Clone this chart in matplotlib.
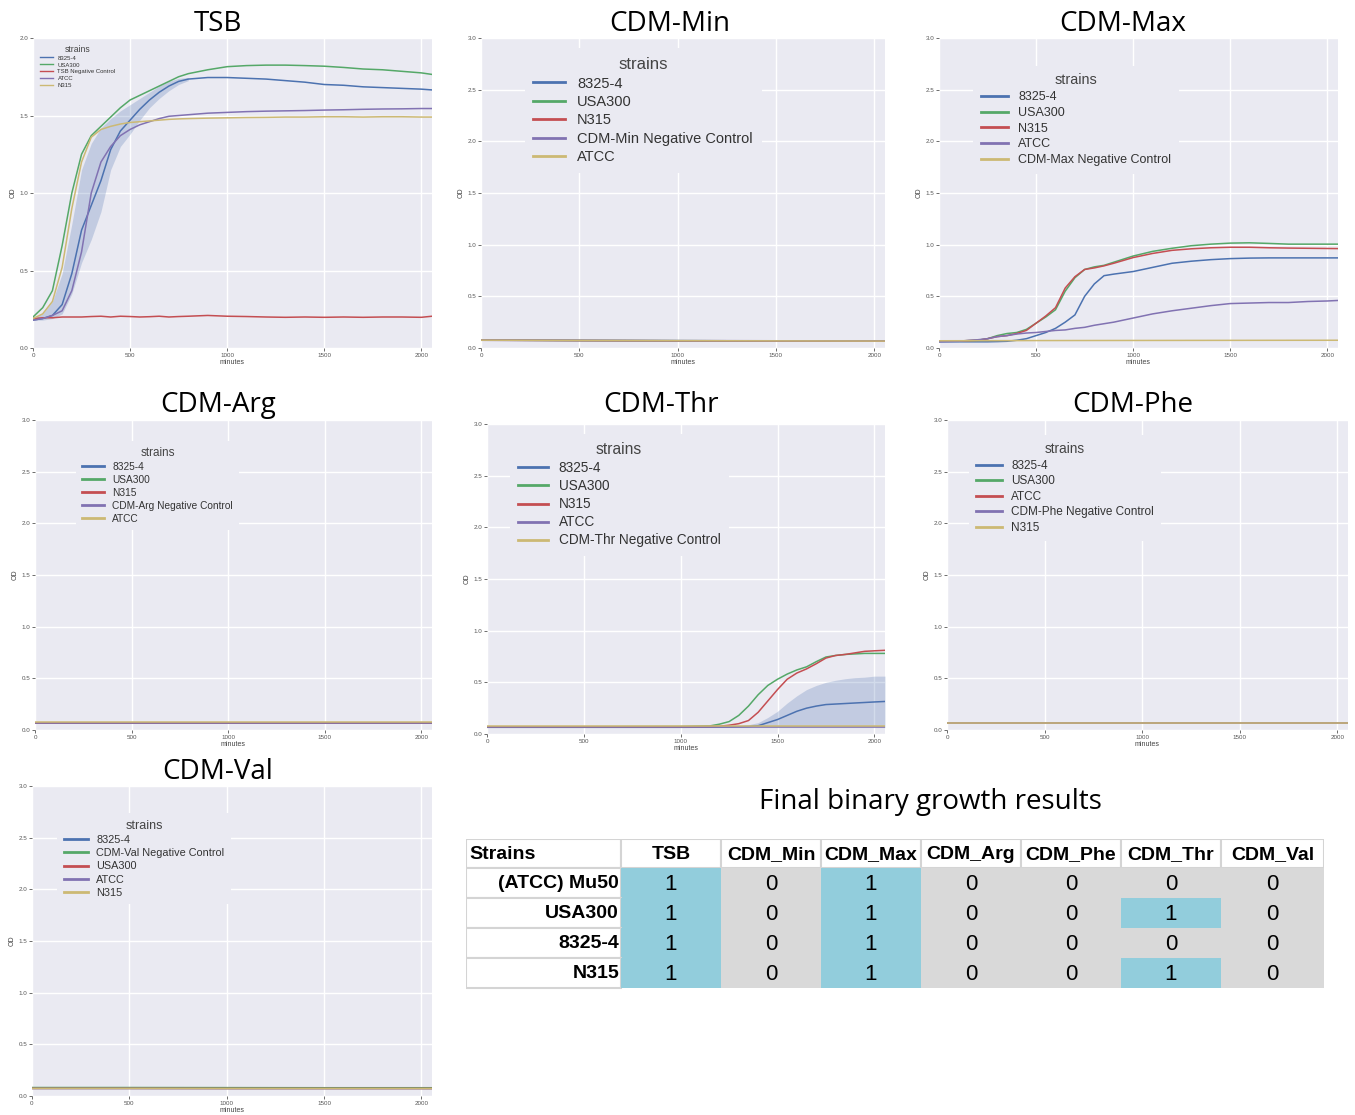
import matplotlib
matplotlib.use('Agg')
import matplotlib.pyplot as plt
from matplotlib.patches import Rectangle

W, H = 1355, 1115

# colours (seaborn "deep")
c_blue, c_green, c_red, c_purple, c_yellow = '#4C72B0', '#55A868', '#C44E52', '#8172B2', '#CCB974'

x_ticks = [0, 500, 1000, 1500, 2000]

# ---------------- TSB ----------------
tsb_t = [0, 50, 100, 150, 200, 250, 300, 350, 400, 450, 500, 550, 600, 650, 700, 750, 800,
         900, 1000, 1100, 1200, 1300, 1400, 1500, 1600, 1700, 1800, 1900, 2000, 2055]
tsb_8325 = [0.18, 0.19, 0.21, 0.28, 0.48, 0.76, 0.92, 1.08, 1.28, 1.40, 1.47, 1.54, 1.60, 1.65, 1.69, 1.72, 1.735,
            1.745, 1.745, 1.74, 1.735, 1.725, 1.715, 1.70, 1.695, 1.685, 1.68, 1.675, 1.67, 1.665]
tsb_usa300 = [0.20, 0.26, 0.37, 0.66, 1.00, 1.25, 1.37, 1.43, 1.49, 1.55, 1.60, 1.63, 1.66, 1.69, 1.72, 1.75, 1.77,
              1.795, 1.815, 1.822, 1.825, 1.825, 1.822, 1.818, 1.81, 1.80, 1.795, 1.785, 1.775, 1.765]
tsb_neg = [0.19, 0.195, 0.195, 0.20, 0.20, 0.20, 0.203, 0.205, 0.20, 0.205, 0.203, 0.20, 0.202, 0.205, 0.20, 0.203, 0.205,
           0.21, 0.205, 0.203, 0.20, 0.198, 0.20, 0.198, 0.20, 0.198, 0.20, 0.20, 0.198, 0.205]
tsb_atcc = [0.18, 0.19, 0.21, 0.24, 0.37, 0.62, 1.00, 1.20, 1.30, 1.37, 1.41, 1.44, 1.46, 1.48, 1.495, 1.50, 1.505,
            1.515, 1.52, 1.525, 1.528, 1.53, 1.532, 1.535, 1.537, 1.54, 1.542, 1.543, 1.545, 1.545]
tsb_n315 = [0.19, 0.22, 0.30, 0.52, 0.90, 1.20, 1.36, 1.41, 1.43, 1.445, 1.455, 1.46, 1.465, 1.47, 1.475, 1.478, 1.48,
            1.483, 1.485, 1.487, 1.488, 1.49, 1.49, 1.492, 1.492, 1.49, 1.492, 1.492, 1.49, 1.49]
tsb_band_t = [0, 50, 100, 150, 200, 250, 300, 350, 400, 450, 500, 550, 600, 650, 700, 750, 800]
tsb_8325_hi = [0.19, 0.22, 0.30, 0.48, 0.80, 1.15, 1.32, 1.42, 1.48, 1.53, 1.57, 1.61, 1.65, 1.69, 1.72, 1.74, 1.745]
tsb_8325_lo = [0.18, 0.18, 0.19, 0.22, 0.35, 0.55, 0.70, 0.88, 1.15, 1.30, 1.38, 1.47, 1.55, 1.61, 1.66, 1.70, 1.725]

# ---------------- flat panels ----------------
flat_t = [0, 500, 1000, 1500, 2055]

min_8325 = [0.075, 0.072, 0.070, 0.068, 0.066]
min_usa300 = [0.076, 0.073, 0.071, 0.069, 0.067]
min_n315 = [0.075, 0.072, 0.070, 0.068, 0.066]
min_neg = [0.077, 0.074, 0.072, 0.070, 0.068]
min_atcc = [0.076, 0.073, 0.071, 0.069, 0.067]

arg_8325 = [0.070, 0.070, 0.070, 0.070, 0.070]
arg_usa300 = [0.071, 0.071, 0.071, 0.071, 0.071]
arg_n315 = [0.070, 0.070, 0.070, 0.070, 0.070]
arg_neg = [0.072, 0.072, 0.072, 0.072, 0.072]
arg_atcc = [0.073, 0.073, 0.073, 0.073, 0.073]

phe_8325 = [0.070, 0.070, 0.070, 0.070, 0.070]
phe_usa300 = [0.071, 0.071, 0.071, 0.071, 0.071]
phe_atcc = [0.070, 0.070, 0.070, 0.070, 0.070]
phe_neg = [0.072, 0.072, 0.072, 0.072, 0.072]
phe_n315 = [0.071, 0.071, 0.071, 0.071, 0.071]

val_8325 = [0.078, 0.078, 0.077, 0.077, 0.077]
val_neg = [0.082, 0.082, 0.081, 0.080, 0.080]
val_usa300 = [0.074, 0.074, 0.073, 0.073, 0.073]
val_atcc = [0.072, 0.072, 0.071, 0.071, 0.071]
val_n315 = [0.073, 0.073, 0.072, 0.072, 0.072]

# ---------------- CDM-Max ----------------
max_t = [0, 100, 200, 250, 300, 350, 400, 450, 500, 550, 600, 650, 700, 750, 800, 850, 900,
         1000, 1100, 1200, 1300, 1400, 1500, 1600, 1700, 1800, 1900, 2000, 2055]
max_8325 = [0.06, 0.06, 0.06, 0.06, 0.062, 0.065, 0.075, 0.09, 0.12, 0.15, 0.19, 0.25, 0.32, 0.50, 0.62, 0.70, 0.715,
            0.74, 0.78, 0.82, 0.84, 0.855, 0.865, 0.87, 0.872, 0.872, 0.872, 0.872, 0.872]
max_usa300 = [0.065, 0.068, 0.075, 0.09, 0.12, 0.14, 0.15, 0.18, 0.24, 0.30, 0.37, 0.55, 0.68, 0.76, 0.785, 0.80, 0.83,
              0.89, 0.935, 0.965, 0.99, 1.005, 1.015, 1.018, 1.012, 1.005, 1.005, 1.005, 1.005]
max_n315 = [0.065, 0.068, 0.075, 0.09, 0.11, 0.12, 0.14, 0.17, 0.24, 0.31, 0.39, 0.58, 0.69, 0.76, 0.775, 0.795, 0.82,
            0.875, 0.915, 0.945, 0.96, 0.97, 0.975, 0.975, 0.97, 0.967, 0.965, 0.963, 0.962]
max_atcc = [0.06, 0.065, 0.08, 0.09, 0.11, 0.12, 0.135, 0.145, 0.15, 0.16, 0.17, 0.175, 0.19, 0.20, 0.22, 0.235, 0.25,
            0.29, 0.33, 0.36, 0.385, 0.41, 0.43, 0.435, 0.44, 0.44, 0.45, 0.455, 0.46]
max_neg = [0.070, 0.072, 0.073, 0.074, 0.075]

# ---------------- CDM-Thr ----------------
thr_t = [0, 500, 1000, 1150, 1200, 1250, 1300, 1350, 1400, 1450, 1500, 1550, 1600, 1650, 1700,
         1750, 1800, 1850, 1900, 1950, 2000, 2055]
thr_8325 = [0.065, 0.065, 0.065, 0.066, 0.067, 0.068, 0.07, 0.072, 0.08, 0.11, 0.14, 0.18, 0.22, 0.25, 0.27,
            0.285, 0.29, 0.295, 0.30, 0.305, 0.31, 0.315]
thr_8325_hi = [0.068, 0.068, 0.07, 0.072, 0.074, 0.076, 0.08, 0.09, 0.11, 0.16, 0.22, 0.30, 0.37, 0.43, 0.47,
               0.50, 0.52, 0.535, 0.545, 0.55, 0.56, 0.56]
thr_8325_lo = [0.062, 0.062, 0.062, 0.062, 0.062, 0.062, 0.062, 0.062, 0.062, 0.062, 0.062, 0.062, 0.062, 0.062, 0.062,
               0.062, 0.062, 0.062, 0.062, 0.062, 0.062, 0.062]
thr_usa300 = [0.07, 0.07, 0.072, 0.078, 0.095, 0.12, 0.18, 0.27, 0.38, 0.47, 0.53, 0.58, 0.62, 0.65, 0.70,
              0.745, 0.76, 0.77, 0.775, 0.78, 0.78, 0.78]
thr_n315 = [0.07, 0.07, 0.07, 0.072, 0.075, 0.085, 0.10, 0.13, 0.21, 0.32, 0.43, 0.53, 0.59, 0.63, 0.68,
            0.735, 0.76, 0.77, 0.785, 0.80, 0.805, 0.81]
thr_atcc = [0.070, 0.070, 0.070, 0.070, 0.070]
thr_neg = [0.075, 0.075, 0.075, 0.075, 0.075]

# ---------------- table ----------------
tbl_cols = ['Strains', 'TSB', 'CDM_Min', 'CDM_Max', 'CDM_Arg', 'CDM_Phe', 'CDM_Thr', 'CDM_Val']
tbl_rows = ['(ATCC) Mu50', 'USA300', '8325-4', 'N315']
tbl_vals = [[1, 0, 1, 0, 0, 0, 0],
            [1, 0, 1, 0, 0, 1, 0],
            [1, 0, 1, 0, 0, 0, 0],
            [1, 0, 1, 0, 0, 1, 0]]

plt.rcParams['font.family'] = ['Liberation Sans', 'DejaVu Sans']
fig = plt.figure(figsize=(W / 100, H / 100), dpi=100)


def px_axes(x0, y0, x1, y1):
    return fig.add_axes([x0 / W, 1 - y1 / H, (x1 - x0) / W, (y1 - y0) / H])


def growth_panel(box, ymax, series, leg_size, leg_anchor, bands=(), handle_lw=2.0):
    ax = px_axes(*box)
    ax.set_facecolor('#EAEAF2')
    for t, lo, hi, col in bands:
        ax.fill_between(t, lo, hi, color=col, alpha=0.25, lw=0)
    for t, y, col, lab in series:
        ax.plot(t, y, color=col, lw=1.1, label=lab)
    ax.set_xlim(0, 2055)
    ax.set_ylim(0, ymax)
    ax.set_xticks(x_ticks)
    ax.set_yticks([v * 0.5 for v in range(int(ymax * 2) + 1)])
    ax.set_yticklabels(['%.1f' % (v * 0.5) for v in range(int(ymax * 2) + 1)])
    ax.grid(True, color='white', lw=1.0)
    ax.set_axisbelow(True)
    for s in ax.spines.values():
        s.set_visible(False)
    ax.tick_params(labelsize=4.5, colors='#555555', length=2, width=0.6, pad=1.5)
    ax.set_xlabel('minutes', fontsize=5, color='#444444', labelpad=1)
    ax.set_ylabel('OD', fontsize=5, color='#444444', labelpad=2)
    leg = ax.legend(title='strains', loc='upper left', bbox_to_anchor=leg_anchor,
                    fontsize=leg_size, title_fontsize=leg_size * 1.15, frameon=True,
                    facecolor='#EAEAF2', edgecolor='none', framealpha=1,
                    handlelength=2.2, borderpad=0.6, labelspacing=0.3)
    for txt in leg.get_texts():
        txt.set_color('#333333')
    leg.get_title().set_color('#444444')
    for ln in leg.get_lines():
        ln.set_linewidth(handle_lw)
    return ax


tsb_ax = growth_panel((33, 38, 432, 348), 2.0,
                      [(tsb_t, tsb_8325, c_blue, '8325-4'),
                       (tsb_t, tsb_usa300, c_green, 'USA300'),
                       (tsb_t, tsb_neg, c_red, 'TSB Negative Control'),
                       (tsb_t, tsb_atcc, c_purple, 'ATCC'),
                       (tsb_t, tsb_n315, c_yellow, 'N315')],
                      4.3, (0.0, 1.0),
                      bands=[(tsb_band_t, tsb_8325_lo, tsb_8325_hi, c_blue)], handle_lw=1.0)
tsb_ax.get_legend().get_title().set_fontsize(6.2)

growth_panel((481, 38, 885, 348), 3.0,
             [(flat_t, min_8325, c_blue, '8325-4'),
              (flat_t, min_usa300, c_green, 'USA300'),
              (flat_t, min_n315, c_red, 'N315'),
              (flat_t, min_neg, c_purple, 'CDM-Min Negative Control'),
              (flat_t, min_atcc, c_yellow, 'ATCC')],
             10.5, (0.09, 0.99))

growth_panel((939, 38, 1338, 348), 3.0,
             [(max_t, max_8325, c_blue, '8325-4'),
              (max_t, max_usa300, c_green, 'USA300'),
              (max_t, max_n315, c_red, 'N315'),
              (max_t, max_atcc, c_purple, 'ATCC'),
              (flat_t, max_neg, c_yellow, 'CDM-Max Negative Control')],
             9.0, (0.07, 0.93))

growth_panel((35, 420, 432, 730), 3.0,
             [(flat_t, arg_8325, c_blue, '8325-4'),
              (flat_t, arg_usa300, c_green, 'USA300'),
              (flat_t, arg_n315, c_red, 'N315'),
              (flat_t, arg_neg, c_purple, 'CDM-Arg Negative Control'),
              (flat_t, arg_atcc, c_yellow, 'ATCC')],
             7.3, (0.09, 0.95))

growth_panel((487, 424, 885, 734), 3.0,
             [(thr_t, thr_8325, c_blue, '8325-4'),
              (thr_t, thr_usa300, c_green, 'USA300'),
              (thr_t, thr_n315, c_red, 'N315'),
              (flat_t, thr_atcc, c_purple, 'ATCC'),
              (flat_t, thr_neg, c_yellow, 'CDM-Thr Negative Control')],
             9.8, (0.04, 0.99),
             bands=[(thr_t, thr_8325_lo, thr_8325_hi, c_blue)])

growth_panel((947, 420, 1348, 730), 3.0,
             [(flat_t, phe_8325, c_blue, '8325-4'),
              (flat_t, phe_usa300, c_green, 'USA300'),
              (flat_t, phe_atcc, c_red, 'ATCC'),
              (flat_t, phe_neg, c_purple, 'CDM-Phe Negative Control'),
              (flat_t, phe_n315, c_yellow, 'N315')],
             8.5, (0.04, 0.97))

growth_panel((32, 786, 432, 1096), 3.0,
             [(flat_t, val_8325, c_blue, '8325-4'),
              (flat_t, val_neg, c_green, 'CDM-Val Negative Control'),
              (flat_t, val_usa300, c_red, 'USA300'),
              (flat_t, val_atcc, c_purple, 'ATCC'),
              (flat_t, val_n315, c_yellow, 'N315')],
             7.8, (0.05, 0.93))

# panel titles
title_font = ['Open Sans', 'DejaVu Sans']
for txt, cx, cy in [('TSB', 218, 24), ('CDM-Min', 670, 24), ('CDM-Max', 1123, 24),
                    ('CDM-Arg', 218, 405), ('CDM-Thr', 661, 405), ('CDM-Phe', 1133, 405),
                    ('CDM-Val', 218, 772), ('Final binary growth results', 930, 802)]:
    fig.text(cx / W, 1 - cy / H, txt, ha='center', va='center', fontsize=20,
             family=title_font, color='black')

# table
tax = px_axes(466, 839, 1324, 990)
col_w = [155, 100, 100, 100, 100, 100, 100, 103]
row_h = [29, 30, 30, 30, 30]
tax.set_xlim(0, sum(col_w))
tax.set_ylim(sum(row_h) + 2, 0)
tax.axis('off')
narrow = ['Liberation Sans Narrow', 'Liberation Sans', 'DejaVu Sans']
line_c = '#D4D4D4'

x_edges = [sum(col_w[:i]) for i in range(len(col_w) + 1)]
y_edges = [sum(row_h[:i]) for i in range(len(row_h) + 1)]

for j, name in enumerate(tbl_cols):
    tax.add_patch(Rectangle((x_edges[j], 0), col_w[j], row_h[0], facecolor='white',
                            edgecolor=line_c, lw=1.5))
    if j == 0:
        tax.text(x_edges[j] + 3, row_h[0] / 2 + 1, name, ha='left', va='center',
                 fontsize=14, weight='bold', family=narrow)
    else:
        tax.text(x_edges[j] + col_w[j] / 2, row_h[0] / 2 + 1, name, ha='center', va='center',
                 fontsize=14, weight='bold', family=narrow)

for i, strain in enumerate(tbl_rows):
    y0 = y_edges[i + 1]
    tax.add_patch(Rectangle((0, y0), col_w[0], row_h[i + 1], facecolor='white',
                            edgecolor=line_c, lw=1.5))
    tax.text(col_w[0] - 2, y0 + row_h[i + 1] / 2 + 1, strain, ha='right', va='center',
             fontsize=14, weight='bold', family=narrow)
    for j, v in enumerate(tbl_vals[i]):
        xx = x_edges[j + 1]
        tax.add_patch(Rectangle((xx, y0), col_w[j + 1], row_h[i + 1],
                                facecolor='#92CDDC' if v == 1 else '#D9D9D9', edgecolor='none'))
        tax.text(xx + col_w[j + 1] / 2, y0 + row_h[i + 1] / 2 + 1, str(v), ha='center', va='center',
                 fontsize=16, family=narrow)

fig.savefig('out.png', dpi=100, facecolor='white')
